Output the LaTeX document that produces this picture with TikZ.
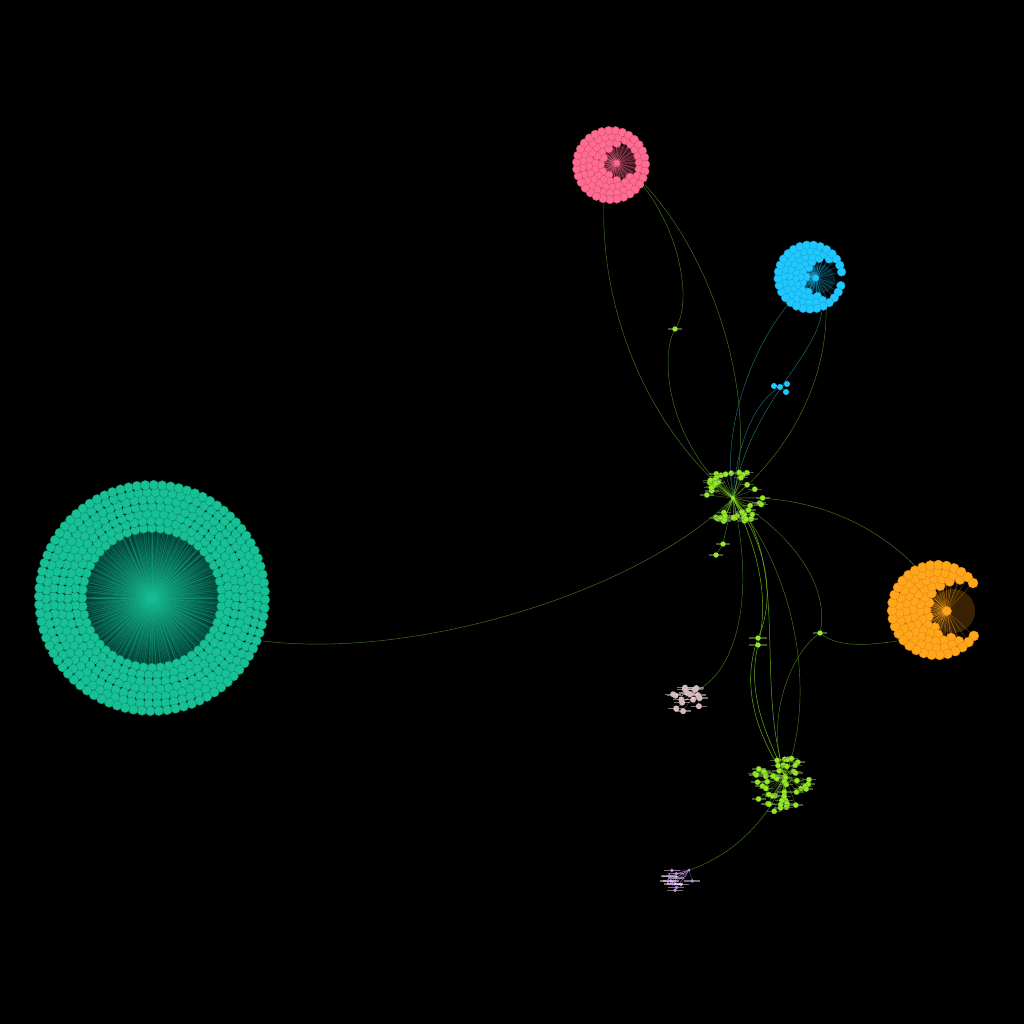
\documentclass[tikz,border=0pt]{standalone}
\pgfdeclarelayer{bg}
\pgfdeclarelayer{edges}
\pgfsetlayers{bg,edges,main}
\definecolor{teal1}{RGB}{24,192,150}
\definecolor{teal2}{RGB}{12,150,115}
\definecolor{tealdark}{RGB}{0,55,44}
\definecolor{pink1}{RGB}{255,108,145}
\definecolor{pink2}{RGB}{215,75,112}
\definecolor{cyan1}{RGB}{32,200,255}
\definecolor{cyan2}{RGB}{20,165,215}
\definecolor{orange1}{RGB}{255,166,28}
\definecolor{orange2}{RGB}{225,135,12}
\definecolor{lime1}{RGB}{150,232,40}
\definecolor{lime2}{RGB}{105,175,22}
\definecolor{linkc}{RGB}{72,122,32}
\definecolor{clinkc}{RGB}{35,115,120}
\definecolor{grayp}{RGB}{215,185,185}
\definecolor{purp}{RGB}{195,140,235}
% ring / crescent cluster on concentric rings (pass 1: edges, pass 2: nodes)
% #1 name #2 style #3 cx #4 cy #5 rin #6 rout #7 hx #8 hy #9 hole r ; \spc = spacing
\newcommand\ringcluster[9]{%
  \pgfmathtruncatemacro\nr{max(1,round((#6-#5)/(0.87*\spc)))}%
  \pgfmathsetmacro\rstep{(#6-#5)/\nr}%
  \foreach \pass in {1,2}{%
  \foreach \ri in {0,...,\nr}{%
    \pgfmathsetmacro\rad{#5+\ri*\rstep}%
    \pgfmathtruncatemacro\na{max(3,round(6.2832*\rad/\spc))}%
    \pgfmathsetmacro\dang{360/\na}%
    \foreach \a in {1,...,\na}{%
      \pgfmathsetmacro\ang{\dang*\a+\ri*23}%
      \pgfmathsetmacro\px{#3+\rad*cos(\ang)}%
      \pgfmathsetmacro\py{#4+\rad*sin(\ang)}%
      \pgfmathsetmacro\din{((\px-#7)/10)^2+((\py-#8)/10)^2}%
      \pgfmathtruncatemacro\ok{\din>(#9/10)^2}%
      \ifnum\ok=1
        \ifnum\pass=1
          \coordinate (#1-\ri-\a) at (\px,\py);
          \draw[#2edge] (#1hub.center) -- (#1-\ri-\a);
        \else
          \node[#2node] (#1n-\ri-\a) at (#1-\ri-\a) {};
        \fi
      \fi
    }%
  }}%
}
% scattered small cluster ; \rmin = inner radius fraction
\newcommand\scatter[9]{%
  \foreach \k in {1,...,#7}{%
    \pgfmathsetmacro\ang{360*rnd}%
    \pgfmathsetmacro\rr{\rmin+(1-\rmin)*sqrt(rnd)}%
    \pgfmathsetmacro\px{#5+#8*\rr*cos(\ang)}%
    \pgfmathsetmacro\py{#6+#9*\rr*sin(\ang)}%
    \coordinate (#1-\k) at (\px,\py);
    \draw[#2edge] (#1hub.center) -- (#1-\k);
  }%
  \foreach \k in {1,...,#7}{%
    \node[#2bar] (#1b-\k) at (#1-\k) {};
    \node[#2node] (#1n-\k) at (#1-\k) {};
  }%
}
\begin{document}
\begin{tikzpicture}[x=1pt,y=-1pt,
  dot/.style={circle,inner sep=0pt},
  barshape/.style={rectangle,inner sep=0pt,minimum width=14pt,minimum height=1.4pt},
  tealnode/.style={dot,minimum size=9.6pt,fill=teal1,draw=teal2,line width=.4pt},
  tealedge/.style={teal1,opacity=.3,line width=.3pt},
  pinknode/.style={dot,minimum size=8.6pt,fill=pink1,draw=pink2,line width=.4pt},
  pinkedge/.style={pink1,opacity=.55,line width=.3pt},
  cyannode/.style={dot,minimum size=8.6pt,fill=cyan1,draw=cyan2,line width=.4pt},
  cyanedge/.style={cyan1,opacity=.55,line width=.3pt},
  orangenode/.style={dot,minimum size=10pt,fill=orange1,draw=orange2,line width=.4pt},
  orangeedge/.style={orange1,opacity=.5,line width=.3pt},
  limenode/.style={dot,minimum size=5.4pt,fill=lime1,draw=lime2,line width=.3pt},
  limeedge/.style={lime1,opacity=.55,line width=.3pt},
  limebar/.style={barshape,fill=lime2!40!gray,opacity=.6},
  graynode/.style={dot,minimum size=6pt,fill=grayp},
  grayedge/.style={grayp,opacity=.5,line width=.3pt},
  graybar/.style={barshape,minimum width=16pt,fill=white,opacity=.45},
  purpnode/.style={dot,minimum size=3.8pt,fill=purp},
  purpedge/.style={purp,opacity=.6,line width=.3pt},
  purpbar/.style={barshape,minimum width=16pt,fill=white,opacity=.45},
  hub/.style={dot,minimum size=6pt,line width=.5pt},
  single/.style={dot,minimum size=5.4pt,fill=lime1},
  link/.style={linkc,line width=.45pt},
  blink/.style={lime2,line width=.5pt},
  clink/.style={clinkc,line width=.45pt}]
\begin{pgfonlayer}{bg}
  \fill[black] (0,0) rectangle (1024,1024);
  \shade[inner color=teal1!85!black, outer color=tealdark] (152,598) circle (67);
  \fill[pink2!30!black] (621,162) circle (16);
  \fill[cyan2!20!black] (821,279) circle (14);
  \fill[orange2!25!black] (953,611) circle (22);
\end{pgfonlayer}
\useasboundingbox (0,0) rectangle (1024,1024);
\pgfmathsetseed{11}

% ---------- hubs ----------
\node[hub,fill=teal2,draw=teal1!60!white] (tlhub) at (152,598) {};
\node[hub,fill=pink1,draw=pink2] (pkhub) at (617,163) {};
\node[hub,fill=cyan1,draw=cyan2] (cyhub) at (816,278) {};
\node[hub,minimum size=9pt,fill=orange1,draw=orange2] (orhub) at (947,611) {};
\node[hub,minimum size=4pt,fill=lime1] (Ghub) at (733,498) {};
\node[hub,minimum size=4pt,fill=lime1] (GGhub) at (785,776) {};
\node[hub,minimum size=3pt,fill=grayp] (Yhub) at (697,690) {};
\node[hub,minimum size=3pt,fill=purp] (Uhub) at (689,870) {};

% small cyan group
\node[dot,minimum size=6pt,fill=cyan1] (cshub) at (780,387) {};
\node[dot,minimum size=6pt,fill=cyan1] (cs1) at (774,386) {};
\node[dot,minimum size=6pt,fill=cyan1] (cs2) at (787,384) {};
\node[dot,minimum size=6pt,fill=cyan1] (cs3) at (786,392) {};

% single nodes
\node[limebar] (s1b) at (675,329) {};
\node[single] (s1) at (675,329) {};
\node[limebar] (s2b) at (723,544) {};
\node[single] (s2) at (723,544) {};
\node[limebar] (s3b) at (716,555) {};
\node[single] (s3) at (716,555) {};
\node[limebar,minimum width=18pt] (s4b) at (758,638) {};
\node[single] (s4) at (758,638) {};
\node[limebar,minimum width=18pt] (s5b) at (758,645) {};
\node[single] (s5) at (758,645) {};
\node[limebar] (s6b) at (820,633) {};
\node[single] (s6) at (820,633) {};

% ---------- inter-cluster links ----------
\coordinate (tlout) at (263,641);
\coordinate (pa) at (604,200);
\coordinate (pb) at (640,182);
\coordinate (pc) at (645,185);
\coordinate (ca) at (790,302);
\coordinate (cb) at (822,311);
\coordinate (cc) at (826,306);
\coordinate (oa) at (915,566);
\coordinate (ob) at (897,641);
\begin{pgfonlayer}{edges}
\draw[cyan1,line width=.3pt] (cshub) -- (cs1) (cshub) -- (cs2) (cshub) -- (cs3);
\draw[link] (tlout) .. controls (420,660) and (640,590) .. (Ghub);
\draw[link] (pa) .. controls (600,300) and (640,420) .. (Ghub);
\draw[link] (pb) .. controls (680,230) and (692,300) .. (s1);
\draw[link] (s1) .. controls (660,360) and (668,440) .. (Ghub);
\draw[link] (pc) .. controls (715,260) and (758,400) .. (Ghub);
\draw[clink] (ca) .. controls (750,350) and (722,430) .. (Ghub);
\draw[clink] (cb) .. controls (815,360) and (752,400) .. (Ghub);
\draw[link] (cc) .. controls (828,380) and (790,450) .. (Ghub);
\draw[clink] (cshub) .. controls (752,405) and (736,450) .. (Ghub);
\draw[link] (Ghub) .. controls (820,495) and (880,530) .. (oa);
\draw[link] (Ghub) .. controls (800,540) and (828,590) .. (s6);
\draw[link] (s6) .. controls (840,648) and (870,645) .. (ob);
\draw[link] (s6) .. controls (790,655) and (765,720) .. (GGhub);
\draw[blink] (Ghub) .. controls (790,560) and (755,680) .. (GGhub);
\draw[blink] (Ghub) .. controls (776,560) and (770,610) .. (s4);
\draw[blink] (s4) .. controls (740,690) and (760,740) .. (GGhub);
\draw[blink] (Ghub) .. controls (768,570) and (765,615) .. (s5);
\draw[blink] (s5) .. controls (746,700) and (772,745) .. (GGhub);
\draw[link] (Ghub) .. controls (800,580) and (815,700) .. (GGhub);
\draw[link] (Ghub) .. controls (756,600) and (735,670) .. (Yhub);
\draw[link] (GGhub) .. controls (765,830) and (720,860) .. (Uhub);
\draw[link] (Ghub) -- (s2);
\draw[link] (s2) -- (s3);
\end{pgfonlayer}

% ---------- clusters ----------
\def\spc{8.5}
\ringcluster{tl}{teal}{152}{598}{70}{113}{152}{598}{60}
\def\spc{7}
\ringcluster{pk}{pink}{611}{165}{4.5}{34.5}{621}{162}{17.5}
\ringcluster{cy}{cyan}{810}{277}{4}{32}{824}{279}{18}
\def\spc{8}
\ringcluster{or}{orange}{937}{610}{4}{45}{960}{611}{28}
\def\rmin{0.5}
\scatter{G}{lime}{733}{498}{733}{497}{44}{31}{28}
\def\rmin{0.1}
\scatter{GG}{lime}{785}{776}{780}{784}{52}{30}{28}
\scatter{Y}{gray}{697}{690}{688}{700}{16}{17}{14}
\def\rmin{0.15}
\scatter{U}{purp}{689}{870}{680}{880}{13}{15}{12}
\end{tikzpicture}
\end{document}
